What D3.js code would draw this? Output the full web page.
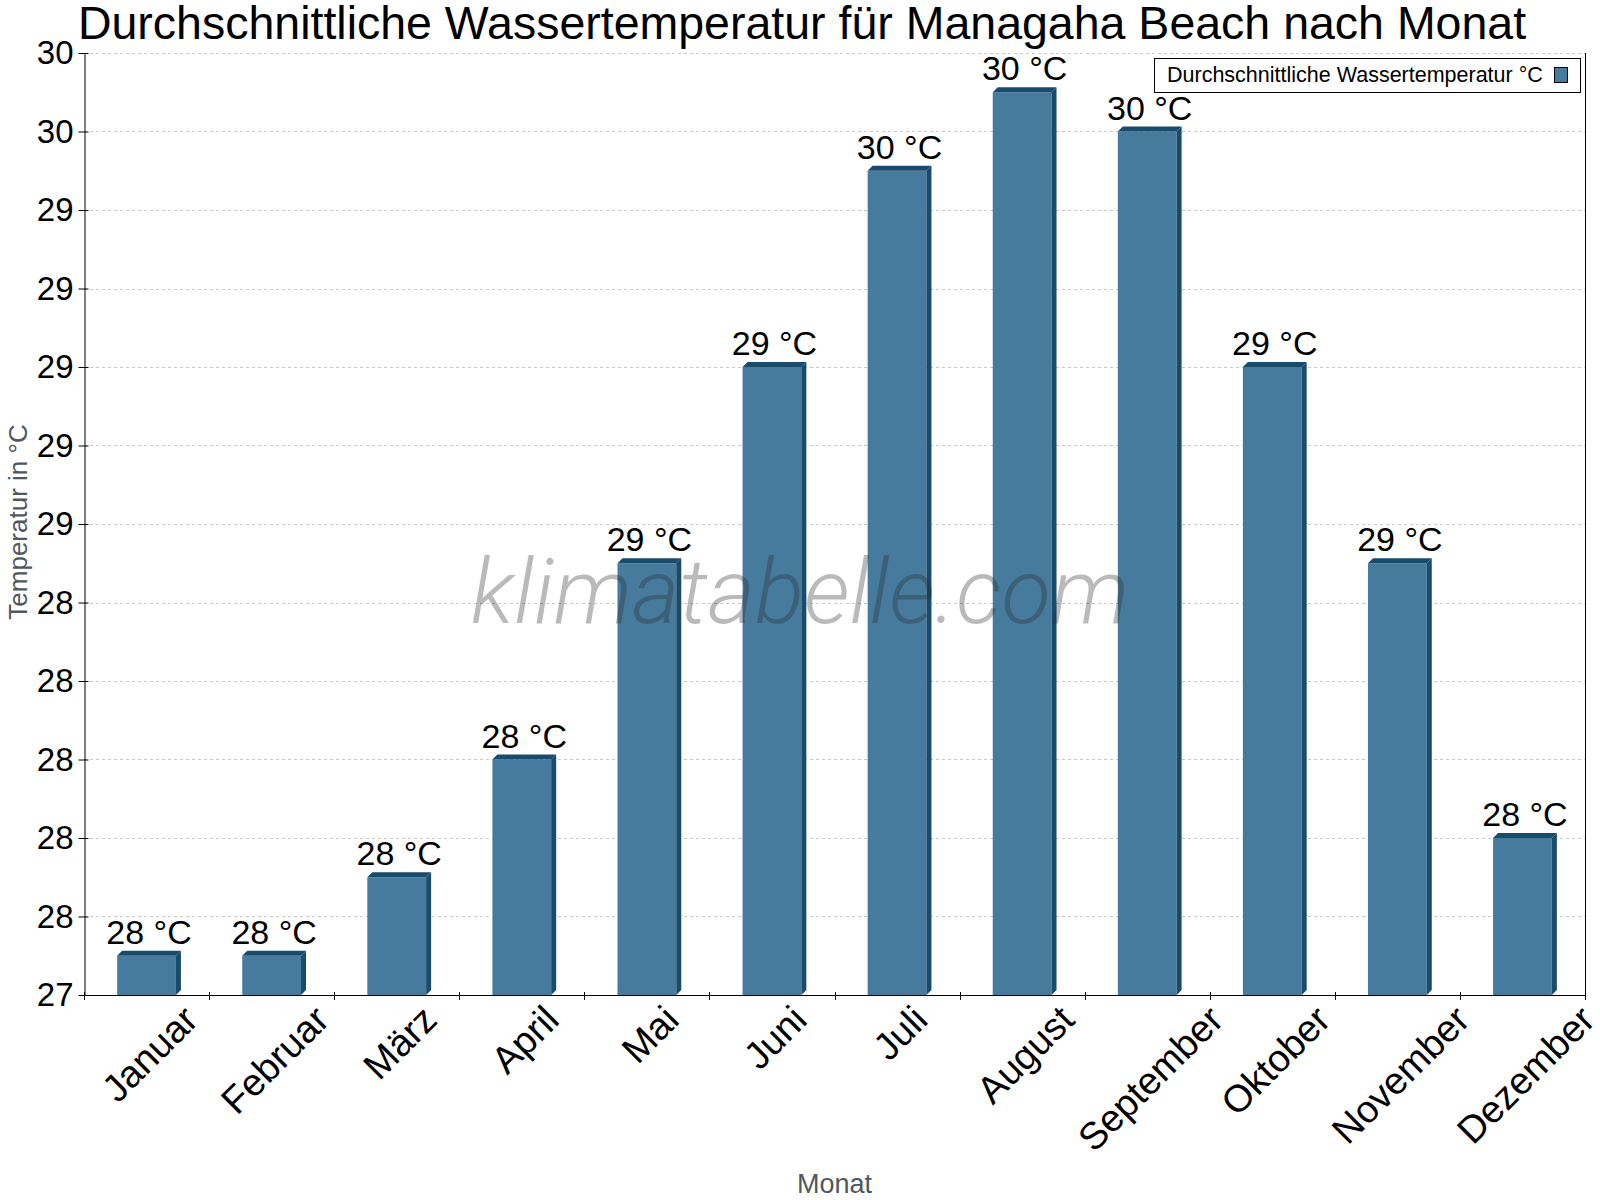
<!DOCTYPE html>
<html>
<head>
<meta charset="utf-8">
<script src="https://cdn.jsdelivr.net/npm/d3@7"></script>
<style>
  body { margin: 0; background: #fff; }
  text { font-family: "Liberation Sans", Arial, sans-serif; }
</style>
</head>
<body>
<script>
// data
const months = ["Januar", "Februar", "März", "April", "Mai", "Juni", "Juli", "August", "September", "Oktober", "November", "Dezember"];
const waterTemp = [27.5, 27.5, 27.7, 28.0, 28.5, 29.0, 29.5, 29.7, 29.6, 29.0, 28.5, 27.8];
const yTicks = [27.4, 27.6, 27.8, 28.0, 28.2, 28.4, 28.6, 28.8, 29.0, 29.2, 29.4, 29.6, 29.8];
const seriesName = "Durchschnittliche Wassertemperatur °C";
const chartTitle = "Durchschnittliche Wassertemperatur für Managaha Beach nach Monat";

const width = 1600;
const height = 1200;
const plotLeft = 84, plotRight = 1585, plotTop = 53, plotBottom = 995;
const depth = 5;
const front = "#467b9d";
const dark = "#184b6c";

const svg = d3.select("body").append("svg")
    .attr("width", width)
    .attr("height", height);

const x = d3.scaleBand().domain(months).range([plotLeft, plotRight]).padding(0);
const y = d3.scaleLinear().domain([27.4, 29.8]).range([plotBottom, plotTop]);

// grid
svg.append("g")
    .selectAll("line")
    .data(yTicks)
    .join("line")
    .attr("x1", plotLeft).attr("x2", plotRight)
    .attr("y1", d => Math.round(y(d)) + 0.5).attr("y2", d => Math.round(y(d)) + 0.5)
    .attr("stroke", "#c8c8c8")
    .attr("stroke-dasharray", "3,3");

// bars with a small 3d edge
const fw = x.bandwidth() * 0.47;
const bars = svg.append("g").selectAll("g").data(waterTemp).join("g");
bars.each(function (v, i) {
    const g = d3.select(this);
    const x0 = x(months[i]) + x.bandwidth() / 2 - fw / 2;
    const x1 = x0 + fw;
    const yt = y(v);
    g.append("rect")
        .attr("x", x0).attr("y", yt)
        .attr("width", fw).attr("height", plotBottom - yt)
        .attr("fill", front);
    g.append("path")
        .attr("d", `M${x0},${yt}L${x0 + depth},${yt - depth}L${x1 + depth},${yt - depth}L${x1},${yt}Z`)
        .attr("fill", dark);
    g.append("path")
        .attr("d", `M${x1},${yt}L${x1 + depth},${yt - depth}L${x1 + depth},${plotBottom - depth}L${x1},${plotBottom}Z`)
        .attr("fill", dark);
    g.append("text")
        .attr("x", x0 + (fw + depth) / 2)
        .attr("y", yt - depth - 7)
        .attr("text-anchor", "middle")
        .style("font-size", "34px")
        .attr("fill", "#000")
        .text(Math.round(v) + " °C");
});

// watermark, drawn over the bars
svg.append("text")
    .attr("x", 800).attr("y", 623)
    .attr("text-anchor", "middle")
    .style("font-family", "Roboto")
    .style("font-weight", 300)
    .style("font-style", "italic")
    .style("font-size", "91px")
    .attr("fill", "rgba(40,40,40,0.32)")
    .text("klimatabelle.com");

// y axis
const yAxis = svg.append("g")
    .attr("transform", `translate(${plotLeft + 0.5},0)`)
    .call(d3.axisLeft(y).tickValues(yTicks).tickFormat(d => Math.round(d)).tickSizeInner(6).tickSizeOuter(0));
yAxis.select(".domain").attr("stroke", "#000");
yAxis.selectAll(".tick line").attr("x1", -6).attr("x2", 4).attr("stroke", "#000");
yAxis.selectAll(".tick text")
    .attr("x", -11)
    .style("font-size", "33px")
    .style("font-family", "Liberation Sans, Arial, sans-serif")
    .attr("fill", "#000");

// x axis: line + ticks between months
svg.append("line")
    .attr("x1", plotLeft).attr("x2", plotRight)
    .attr("y1", plotBottom + 0.5).attr("y2", plotBottom + 0.5)
    .attr("stroke", "#000");
svg.append("line")
    .attr("x1", plotRight + 0.5).attr("x2", plotRight + 0.5)
    .attr("y1", plotTop).attr("y2", plotBottom + 5)
    .attr("stroke", "#000");
const bounds = d3.range(months.length + 1);
svg.append("g").selectAll("line")
    .data(bounds)
    .join("line")
    .attr("x1", d => Math.round(plotLeft + d * x.step()) + 0.5)
    .attr("x2", d => Math.round(plotLeft + d * x.step()) + 0.5)
    .attr("y1", plotBottom - 3).attr("y2", plotBottom + 5)
    .attr("stroke", "#000");

// month labels, rotated
const labelSize = 38;
const xl = svg.append("g").selectAll("text")
    .data(months)
    .join("text")
    .attr("text-anchor", "middle")
    .attr("dy", "0.35em")
    .style("font-size", labelSize + "px")
    .attr("fill", "#000")
    .text(d => d);
xl.each(function (d) {
    const w = this.getComputedTextLength();
    const h = labelSize * 0.72;
    const bh = (w + h) * Math.SQRT1_2;
    const cx = x(d) + x.bandwidth() / 2 + 3;
    const cy = plotBottom + 8 + bh / 2;
    d3.select(this).attr("transform", `translate(${cx},${cy}) rotate(-45)`);
});

// axis titles
svg.append("text")
    .attr("transform", `translate(27,522) rotate(-90)`)
    .attr("text-anchor", "middle")
    .style("font-size", "26px")
    .attr("fill", "#4f5761")
    .text("Temperatur in °C");
svg.append("text")
    .attr("x", (plotLeft + plotRight) / 2).attr("y", 1193)
    .attr("text-anchor", "middle")
    .style("font-size", "27px")
    .attr("fill", "#4f5761")
    .text("Monat");

// title
svg.append("text")
    .attr("x", 802).attr("y", 39)
    .attr("text-anchor", "middle")
    .style("font-size", "46.5px")
    .attr("fill", "#000")
    .text(chartTitle);

// legend
const lg = svg.append("g");
lg.append("rect")
    .attr("x", 1154.5).attr("y", 58.5)
    .attr("width", 426).attr("height", 34)
    .attr("fill", "#fff").attr("stroke", "#000");
lg.append("text")
    .attr("x", 1167).attr("y", 82)
    .style("font-size", "21.5px")
    .attr("fill", "#000")
    .text(seriesName);
lg.append("rect")
    .attr("x", 1554.5).attr("y", 67.5)
    .attr("width", 13).attr("height", 15)
    .attr("fill", front).attr("stroke", "#000");
</script>
</body>
</html>
